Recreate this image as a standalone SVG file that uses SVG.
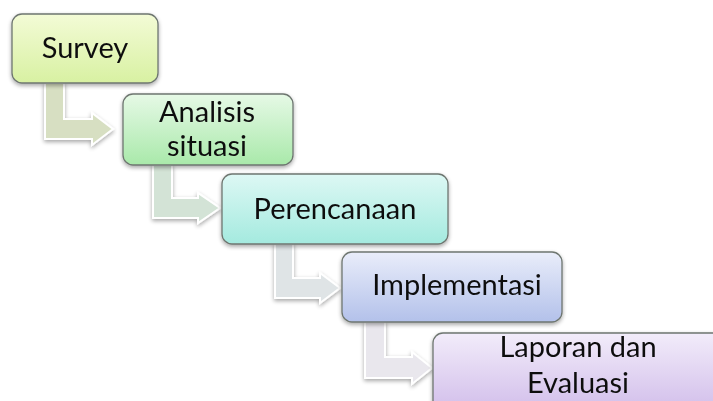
<svg xmlns="http://www.w3.org/2000/svg" width="713" height="401" viewBox="0 0 713 401">
<style>
.box{stroke:#6e7670;stroke-width:1.3}
.arr{stroke:#ffffff;stroke-width:2;stroke-linejoin:miter}
.lbl{font-family:Lato,"Open Sans",sans-serif;font-size:29px;fill:#111;text-anchor:middle}
</style>
<defs>
<filter id="sh" x="-10%" y="-10%" width="125%" height="135%">
<feGaussianBlur in="SourceAlpha" stdDeviation="2"/>
<feOffset dx="0" dy="2" result="b"/>
<feComponentTransfer><feFuncA type="linear" slope="0.35"/></feComponentTransfer>
<feMerge><feMergeNode/><feMergeNode in="SourceGraphic"/></feMerge>
</filter>
<linearGradient id="g1" x1="0" y1="0" x2="0" y2="1"><stop offset="0" stop-color="#f3fbd6"/><stop offset="1" stop-color="#d8f1a2"/></linearGradient>
<linearGradient id="g2" x1="0" y1="0" x2="0" y2="1"><stop offset="0" stop-color="#e6f9e6"/><stop offset="1" stop-color="#a9e9aa"/></linearGradient>
<linearGradient id="g3" x1="0" y1="0" x2="0" y2="1"><stop offset="0" stop-color="#ddf8f4"/><stop offset="1" stop-color="#a4eadf"/></linearGradient>
<linearGradient id="g4" x1="0" y1="0" x2="0" y2="1"><stop offset="0" stop-color="#e9edfa"/><stop offset="1" stop-color="#b3c1ea"/></linearGradient>
<linearGradient id="g5" x1="0" y1="0" x2="0" y2="1"><stop offset="0" stop-color="#f2ecfa"/><stop offset="1" stop-color="#d1bdea"/></linearGradient>
</defs>
<g id="connectors" filter="url(#sh)">
<path class="arr" fill="#d7dfc2" d="M45,83 L64,83 L64,119 L92,119 L92,113 L113,129 L92,145 L92,139 L45,139 Z"/>
<path class="arr" fill="#d3e3d6" d="M153,165 L172,165 L172,198 L198,198 L198,193 L220,208 L198,223 L198,218 L153,218 Z"/>
<path class="arr" fill="#dfe4e6" d="M275,244 L293,244 L293,278 L320,278 L320,273 L340,288 L320,303 L320,298 L275,298 Z"/>
<path class="arr" fill="#e9e7ed" d="M365,322 L385,322 L385,357 L412,357 L412,352 L432,368 L412,384 L412,378 L365,378 Z"/>
</g>
<g id="survey" filter="url(#sh)">
<rect class="box" x="12" y="14" width="146" height="69" rx="10" fill="url(#g1)"/>
<text class="lbl" x="85" y="58">Survey</text>
</g>
<g id="analisis" filter="url(#sh)">
<rect class="box" x="123" y="94" width="170" height="71" rx="10" fill="url(#g2)"/>
<text class="lbl" x="207" y="122">Analisis</text>
<text class="lbl" x="207" y="156">situasi</text>
</g>
<g id="perencanaan" filter="url(#sh)">
<rect class="box" x="222" y="174" width="226" height="70" rx="10" fill="url(#g3)"/>
<text class="lbl" x="335" y="219">Perencanaan</text>
</g>
<g id="implementasi" filter="url(#sh)">
<rect class="box" x="342" y="252" width="220" height="70" rx="10" fill="url(#g4)"/>
<text class="lbl" x="457" y="295">Implementasi</text>
</g>
<g id="laporan" filter="url(#sh)">
<rect class="box" x="433" y="333" width="290" height="80" rx="10" fill="url(#g5)"/>
<text class="lbl" x="578" y="357">Laporan dan</text>
<text class="lbl" x="578" y="393">Evaluasi</text>
</g>
</svg>
